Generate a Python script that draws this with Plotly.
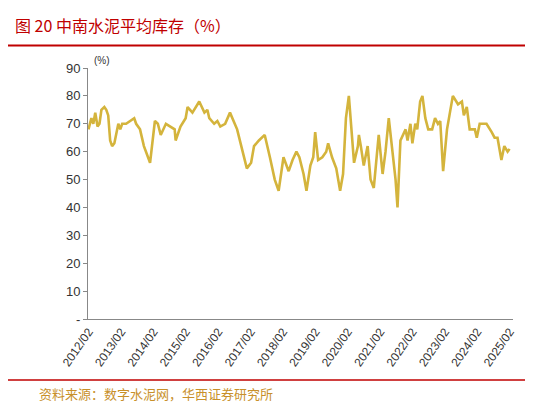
import plotly.graph_objects as go
import datetime as dt

t = [2012.08,2012.17,2012.23,2012.29,2012.36,2012.42,2012.48,2012.57,2012.63,2012.69,2012.75,2012.81,2012.88,2012.94,
     2013.00,2013.06,2013.12,2013.24,2013.36,2013.49,2013.55,2013.61,2013.67,2013.79,2013.91,2013.98,
     2014.04,2014.13,2014.22,2014.31,2014.47,2014.62,2014.74,2014.77,2014.92,
     2015.08,2015.14,2015.29,2015.50,2015.66,2015.75,2015.81,2015.96,
     2016.06,2016.15,2016.30,2016.45,2016.67,2016.76,2016.88,2016.97,
     2017.10,2017.19,2017.34,2017.52,2017.68,2017.83,2017.95,
     2018.10,2018.26,2018.38,2018.50,2018.59,2018.72,2018.81,2018.93,
     2019.02,2019.08,2019.17,2019.30,2019.42,2019.48,2019.60,2019.73,2019.85,2019.94,
     2020.03,2020.12,2020.18,2020.28,2020.40,2020.43,2020.49,2020.58,2020.70,2020.79,2020.89,2020.98,
     2021.04,2021.16,2021.25,2021.35,2021.47,2021.56,2021.62,2021.71,2021.87,2021.93,
     2022.02,2022.08,2022.17,2022.23,2022.32,2022.39,2022.48,2022.57,2022.69,2022.78,2022.87,2022.94,
     2023.03,2023.15,2023.24,2023.33,2023.49,2023.61,2023.67,2023.76,2023.85,
     2024.01,2024.07,2024.16,2024.25,2024.37,2024.53,2024.62,2024.71,2024.83,2024.92,
     2025.02,2025.08]
inventory = [68,72,70,74,69,70,75,76,75,73,64,62,63,66,
             70,68,70,70,71,72,70,69,68,62,58,56,
             62,71,70,66,70,69,68,64,69,
             72,76,74,78,74,75,72,70,
             71,69,70,74,68,64,58,54,
             56,62,64,66,58,50,46,
             58,53,57,60,58,52,46,55,
             58,67,57,58,60,63,58,54,46,52,
             72,80,72,56,62,66,62,55,62,50,47,58,
             66,52,60,72,58,50,40,64,68,64,
             70,63,70,68,78,80,72,68,68,72,70,71,
             53,68,74,80,77,78,73,76,68,
             68,65,70,70,70,67,65,65,57,62,
             60,61]

def to_date(y):
    yr = int(y)
    return dt.datetime(yr, 1, 1) + dt.timedelta(days=(y - yr) * 365.25)

dates = [to_date(v) for v in t]
years = list(range(2012, 2026))
tick_vals = [dt.datetime(y, 2, 1) for y in years]
tick_text = [f"{y}/02" for y in years]
y_vals = list(range(0, 100, 10))
y_text = ["-"] + [str(v) for v in y_vals[1:]]

fig = go.Figure(go.Scatter(x=dates, y=inventory, mode="lines",
                           line=dict(color="#D4B43C", width=2.6)))
fig.update_layout(
    width=533, height=404, margin=dict(l=80, r=28, t=60, b=93, autoexpand=False),
    paper_bgcolor="white", plot_bgcolor="white", showlegend=False,
    font=dict(family="Liberation Sans, Arial", color="#333", size=13),
    xaxis=dict(range=[dt.datetime(2012, 1, 25), dt.datetime(2025, 3, 10)],
               tickvals=tick_vals, ticktext=tick_text, tickangle=-55,
               showgrid=False, showline=True, linecolor="#888", ticks="",
               tickfont=dict(size=12), automargin=False),
    yaxis=dict(range=[0, 90], tickvals=y_vals, ticktext=y_text, showgrid=False,
               showline=True, linecolor="#888", ticks="outside", ticklen=4,
               tickcolor="#888", tickfont=dict(size=13), automargin=False),
    shapes=[dict(type="line", xref="paper", yref="paper", x0=-0.19, x1=1.07,
                 y0=1.09, y1=1.09, line=dict(color="#C00000", width=2)),
            dict(type="line", xref="paper", yref="paper", x0=-0.19, x1=1.07,
                 y0=-0.243, y1=-0.243, line=dict(color="#C00000", width=1.5))],
    annotations=[
        dict(text="图 20 中南水泥平均库存（%）", xref="paper", yref="paper",
             x=-0.176, y=1.17, xanchor="left", yanchor="middle", showarrow=False,
             font=dict(family="Noto Sans CJK SC", size=16, color="#C00000")),
        dict(text="(%)", xref="paper", yref="paper", x=0.01, y=1.0,
             xanchor="left", yanchor="bottom", showarrow=False,
             font=dict(size=10, color="#333")),
        dict(text="资料来源：数字水泥网，华西证券研究所", xref="paper", yref="paper",
             x=-0.12, y=-0.295, xanchor="left", yanchor="middle", showarrow=False,
             font=dict(family="Noto Sans CJK SC", size=13, color="#C8902A")),
    ],
)
fig.write_html("out.html")
